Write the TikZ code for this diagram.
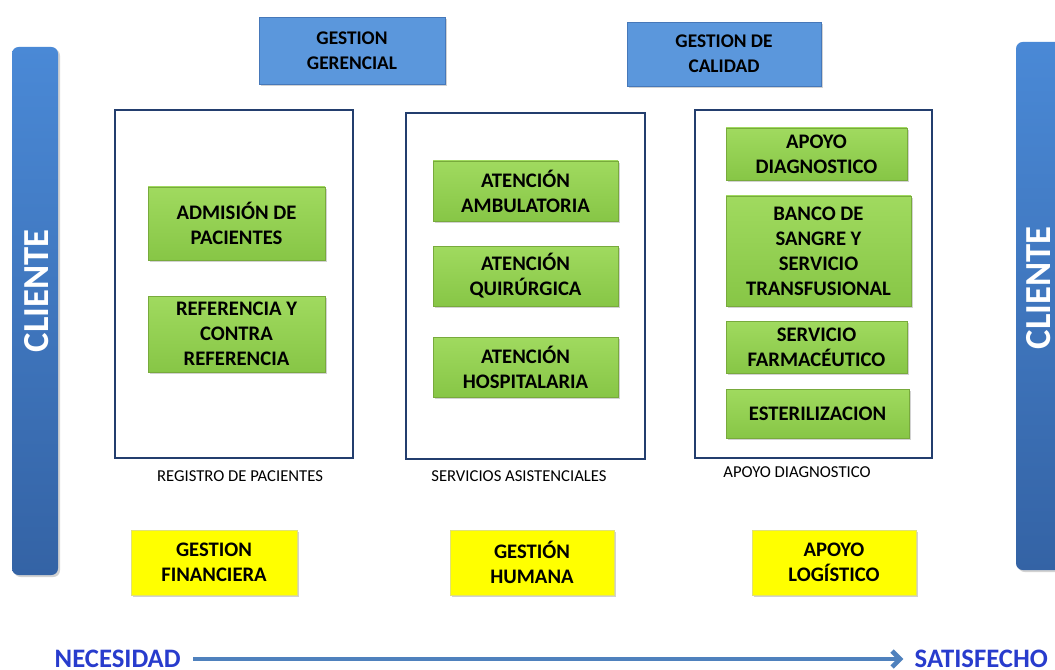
\documentclass[tikz,border=0pt]{standalone}
\usepackage{fontspec}
\setmainfont{Carlito}
\usetikzlibrary{shadows,arrows.meta}
\definecolor{cltop}{RGB}{74,137,214}
\definecolor{clbot}{RGB}{52,99,165}
\definecolor{topblue}{RGB}{91,151,220}
\definecolor{topblueD}{RGB}{70,120,185}
\definecolor{gtop}{RGB}{160,218,95}
\definecolor{gbot}{RGB}{135,198,70}
\definecolor{gD}{RGB}{120,170,60}
\definecolor{yel}{RGB}{255,255,0}
\definecolor{yelD}{RGB}{225,225,120}
\definecolor{navy}{RGB}{35,62,110}
\definecolor{arrowc}{RGB}{79,129,189}
\definecolor{txtblue}{RGB}{40,60,205}
\tikzset{
  bx/.style 2 args={minimum width=#1*0.75pt, minimum height=#2*0.75pt},
  shad/.style={drop shadow={opacity=0.35, shadow xshift=1.5pt, shadow yshift=-1.5pt}},
  boxtext/.style={align=center, inner sep=0pt, text=black,
    font=\bfseries\fontsize{15.5}{18.75}\selectfont},
  clientbar/.style={rounded corners=5pt, top color=cltop, bottom color=clbot, draw=none, shad},
  clienttext/.style={rotate=90, text=white, inner sep=0pt, text depth=0pt,
    font=\bfseries\fontsize{27.5}{32}\selectfont},
  topbox/.style={boxtext, shad, draw=topblueD, fill=topblue,
    font=\bfseries\fontsize{14.5}{18.75}\selectfont},
  gbox/.style={boxtext, shad, draw=gD, top color=gtop, bottom color=gbot},
  ybox/.style={boxtext, shad, draw=yelD, fill=yel},
  container/.style={draw=navy, line width=1.5pt, fill=white},
  caption/.style={font=\fontsize{12.5}{14}\selectfont, text=black},
  endtext/.style={font=\bfseries\fontsize{20}{22}\selectfont, text=txtblue},
}
\begin{document}
\begin{tikzpicture}[x=0.75pt,y=-0.75pt]
\clip (0,0) rectangle (1055,670);
\fill[white] (0,0) rectangle (1055,670);

% Client bars
\node[clientbar, bx={46}{528}] (cl1) at (35,311) {};
\node[clienttext] (cl1t) at (36,291) {CLIENTE};
\node[clientbar, bx={46}{528}] (cl2) at (1039,306) {};
\node[clienttext] (cl2t) at (1038,288) {CLIENTE};

% Top management boxes
\node[topbox, bx={186}{67}] (gg) at (352,50.5) {GESTION\\GERENCIAL};
\node[topbox, bx={194}{64}] (gc) at (724,54) {GESTION DE\\CALIDAD};

% Containers
\node[container, bx={238}{348}] (c1) at (234,284) {};
\node[container, bx={239}{346}] (c2) at (525.5,286) {};
\node[container, bx={237}{348}] (c3) at (813.5,284) {};

\node[caption] (l1) at (240,476) {REGISTRO DE PACIENTES};
\node[caption] (l2) at (519,476) {SERVICIOS ASISTENCIALES};
\node[caption] (l3) at (797,472) {APOYO DIAGNOSTICO};

% Green boxes, column 1
\node[gbox, bx={177}{73}] (adm) at (236.5,223.5) {ADMISIÓN DE\\PACIENTES};
\node[gbox, bx={177}{76}] (ref) at (236.5,334) {REFERENCIA Y\\CONTRA\\REFERENCIA};

% Green boxes, column 2
\node[gbox, bx={185}{60}] (amb) at (525.5,191) {ATENCIÓN\\AMBULATORIA};
\node[gbox, bx={185}{60}] (qui) at (525.5,276) {ATENCIÓN\\QUIRÚRGICA};
\node[gbox, bx={185}{60}] (hos) at (525.5,367) {ATENCIÓN\\HOSPITALARIA};

% Green boxes, column 3
\node[gbox, bx={181}{52}] (apd) at (816.5,154) {APOYO\\DIAGNOSTICO};
\node[gbox, bx={185}{110}] (ban) at (818.5,251) {BANCO DE\\SANGRE Y\\SERVICIO\\TRANSFUSIONAL};
\node[gbox, bx={181}{52}] (far) at (816.5,347) {SERVICIO\\FARMACÉUTICO};
\node[gbox, bx={183}{49}] (est) at (817.5,413.5) {ESTERILIZACION};

% Yellow boxes
\node[ybox, bx={166}{65}] (fin) at (214,562.5) {GESTION\\FINANCIERA};
\node[ybox, bx={164}{65}] (hum) at (532,562.5) {GESTIÓN\\HUMANA};
\node[ybox, bx={164}{65}] (log) at (834,562.5) {APOYO\\LOGÍSTICO};

% Bottom arrow
\node[endtext, anchor=west] (nec) at (50,659) {NECESIDAD};
\node[endtext, anchor=west] (sat) at (910,659) {SATISFECHO};
\draw[arrowc, line width=3.5pt, shorten <=6pt, shorten >=5pt,
  -{Straight Barb[length=6pt,width=12pt]}] (nec.east) -- (sat.west);
\end{tikzpicture}
\end{document}
